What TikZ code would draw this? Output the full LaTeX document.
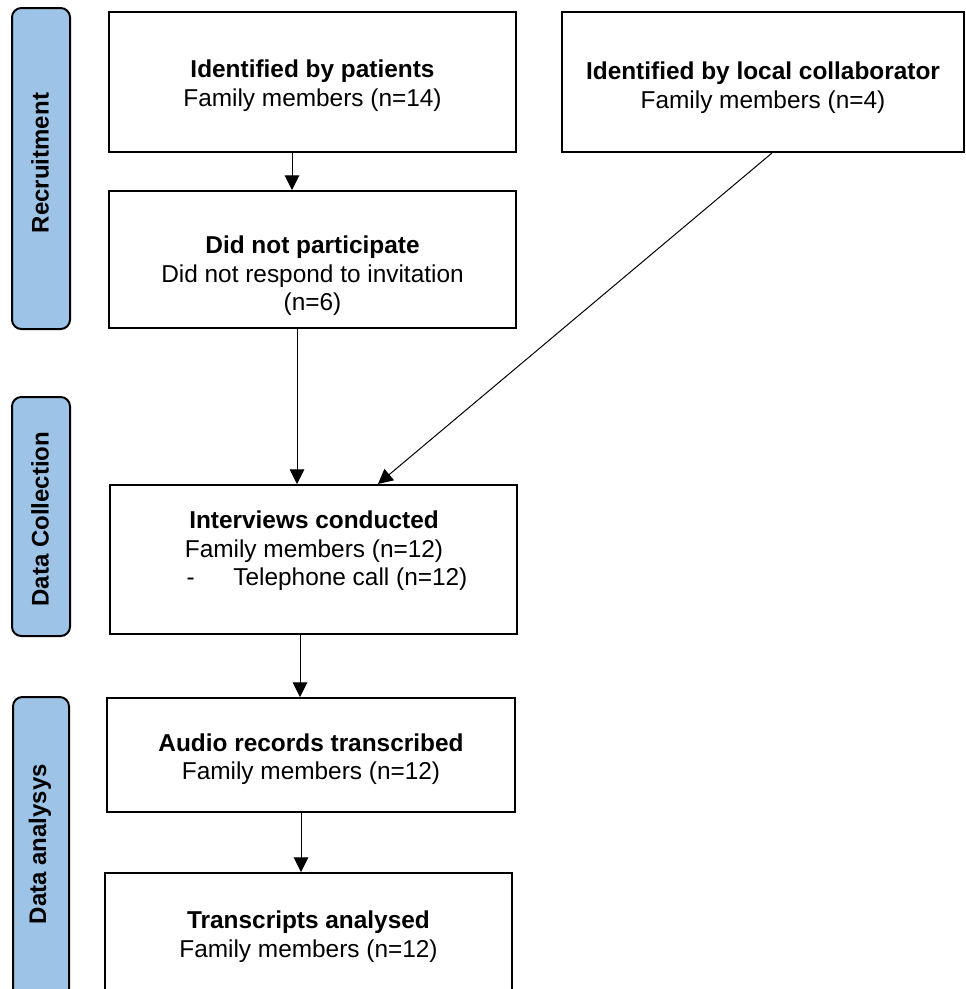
\documentclass[tikz,border=0pt]{standalone}
\usepackage{fontspec}
\setmainfont{Liberation Sans}
\usetikzlibrary{arrows.meta,calc}
\definecolor{barblue}{RGB}{157,195,230}
\begin{document}
\begin{tikzpicture}[x=0.75pt,y=-0.75pt,
  box/.style={draw,line width=1.5pt,inner sep=0pt},
  bar/.style={draw,line width=1.5pt,fill=barblue,rounded corners=7pt,inner sep=0pt},
  txt/.style={align=center,inner sep=0pt,font=\fontsize{18.3}{21.4}\selectfont},
  lbl/.style={rotate=90,inner sep=0pt,font=\fontsize{18}{21}\selectfont\bfseries},
  arr/.style={line width=0.75pt,-{Triangle[width=11pt,length=11pt]}}]
\useasboundingbox (0,0) rectangle (966,989);
\clip (0,0) rectangle (966,989);
\fill[white] (0,0) rectangle (966,989);

% phase bars
\node[bar,minimum width=43.5pt,minimum height=240.75pt] (bar1) at (41,168.5) {};
\node[bar,minimum width=43.5pt,minimum height=179.25pt] (bar2) at (41,516.5) {};
\node[bar,minimum width=42pt,minimum height=234.75pt] (bar3) at (41,853.5) {};
\node[lbl] (l1) at (40,163) {Recruitment};
\node[lbl] (l2) at (40,519) {Data Collection};
\node[lbl] (l3) at (40,844) {Data analysys};

% boxes
\node[box,minimum width=305.25pt,minimum height=105pt] (b1) at (312.5,82) {};
\node[box,minimum width=301.5pt,minimum height=105pt] (b2) at (763,82) {};
\node[box,minimum width=305.25pt,minimum height=102.75pt] (b3) at (312.5,259.5) {};
\node[box,minimum width=305.25pt,minimum height=111.75pt] (b4) at (313.5,559.5) {};
\node[box,minimum width=306pt,minimum height=85.5pt] (b5) at (311,755) {};
\node[box,minimum width=305.25pt,minimum height=102.75pt] (b6) at (308.5,941.5) {};

% texts
\node[txt] (t1) at (312.5,85.5) {\textbf{Identified by patients}\\Family members (n=14)};
\node[txt] (t2) at (763,87.5) {\textbf{Identified by local collaborator}\\Family members (n=4)};
\node[txt] (t3) at (312.5,276) {\textbf{Did not participate}\\Did not respond to invitation\\(n=6)};
\node[txt] (t4) at (314,551) {\textbf{Interviews conducted}\\Family members (n=12)\\\hspace*{19.5pt}-\hspace{29pt}Telephone call (n=12)};
\node[txt] (t5) at (311,759) {\textbf{Audio records transcribed}\\Family members (n=12)};
\node[txt] (t6) at (308.5,936.5) {\textbf{Transcripts analysed}\\Family members (n=12)};

% connectors
\draw[arr] ($(b1.south)+(-20.5,0)$) -- ($(b3.north)+(-20.5,0)$);
\draw[arr] ($(b3.south)+(-15.5,0)$) -- ($(b4.north)+(-16.5,0)$);
\draw[arr] ($(b2.south)+(9,0)$) -- ($(b4.north)+(64.5,0)$);
\draw[arr] ($(b4.south)+(-13.5,0)$) -- ($(b5.north)+(-11,0)$);
\draw[arr] ($(b5.south)+(-10,0)$) -- ($(b6.north)+(-7.5,0)$);
\end{tikzpicture}
\end{document}
